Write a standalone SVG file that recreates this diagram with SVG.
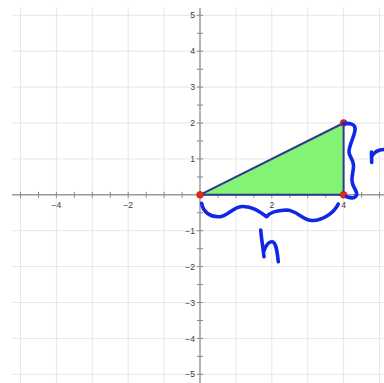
<svg xmlns="http://www.w3.org/2000/svg" width="384" height="383" viewBox="0 0 384 383">
<style>
.grid line{stroke:#e6e6e6;stroke-width:1}
.axis{stroke:#9a9a9a;stroke-width:1.5;fill:none}
.tick{stroke:#8a8a8a;stroke-width:1}
.lbl{font-family:"Liberation Sans",Arial,sans-serif;font-size:8.5px;fill:#3a3a3a}
.ink{fill:none;stroke:#1028e6;stroke-width:3.6;stroke-linecap:round;stroke-linejoin:round}
.pt{fill:#e52a1a;stroke:#b01a10;stroke-width:0.6}
</style>
<rect width="384" height="383" fill="#ffffff"/>
<g class="grid">
<line x1="20.5" y1="7" x2="20.5" y2="383"/>
<line x1="56.4" y1="7" x2="56.4" y2="383"/>
<line x1="92.3" y1="7" x2="92.3" y2="383"/>
<line x1="128.2" y1="7" x2="128.2" y2="383"/>
<line x1="164.1" y1="7" x2="164.1" y2="383"/>
<line x1="235.9" y1="7" x2="235.9" y2="383"/>
<line x1="271.8" y1="7" x2="271.8" y2="383"/>
<line x1="307.7" y1="7" x2="307.7" y2="383"/>
<line x1="343.6" y1="7" x2="343.6" y2="383"/>
<line x1="379.5" y1="7" x2="379.5" y2="383"/>
<line x1="12" y1="15.3" x2="384" y2="15.3"/>
<line x1="12" y1="51.2" x2="384" y2="51.2"/>
<line x1="12" y1="87.1" x2="384" y2="87.1"/>
<line x1="12" y1="123" x2="384" y2="123"/>
<line x1="12" y1="158.9" x2="384" y2="158.9"/>
<line x1="12" y1="230.7" x2="384" y2="230.7"/>
<line x1="12" y1="266.6" x2="384" y2="266.6"/>
<line x1="12" y1="302.5" x2="384" y2="302.5"/>
<line x1="12" y1="338.4" x2="384" y2="338.4"/>
<line x1="12" y1="374.3" x2="384" y2="374.3"/>
</g>
<g id="axes">
<line class="axis" x1="12" y1="194.8" x2="384" y2="194.8"/>
<line class="axis" x1="200" y1="8" x2="200" y2="383"/>
<path class="tick" d="M20.5 191.8v6M38.5 191.8v6M56.4 191.8v6M74.4 191.8v6M92.3 191.8v6M110.3 191.8v6M128.2 191.8v6M146.2 191.8v6M164.1 191.8v6M182.1 191.8v6M218 191.8v6M235.9 191.8v6M253.9 191.8v6M271.8 191.8v6M289.8 191.8v6M307.7 191.8v6M325.7 191.8v6M343.6 191.8v6M361.6 191.8v6M379.5 191.8v6"/>
<path class="tick" d="M197 15.3h6M197 33.3h6M197 51.2h6M197 69.2h6M197 87.1h6M197 105.1h6M197 123h6M197 141h6M197 158.9h6M197 176.9h6M197 212.8h6M197 230.7h6M197 248.7h6M197 266.6h6M197 284.6h6M197 302.5h6M197 320.5h6M197 338.4h6M197 356.4h6M197 374.3h6"/>
</g>
<g id="labels" class="lbl">
<text x="56.4" y="208" text-anchor="middle">−4</text>
<text x="128.2" y="208" text-anchor="middle">−2</text>
<text x="271.8" y="208" text-anchor="middle">2</text>
<text x="343.6" y="208" text-anchor="middle">4</text>
<text x="195" y="18" text-anchor="end">5</text>
<text x="195" y="54" text-anchor="end">4</text>
<text x="195" y="90" text-anchor="end">3</text>
<text x="195" y="126" text-anchor="end">2</text>
<text x="195" y="162" text-anchor="end">1</text>
<text x="195" y="233.5" text-anchor="end">−1</text>
<text x="195" y="269.5" text-anchor="end">−2</text>
<text x="195" y="305.5" text-anchor="end">−3</text>
<text x="195" y="341.5" text-anchor="end">−4</text>
<text x="195" y="377" text-anchor="end">−5</text>
</g>
<g id="triangle">
<polygon points="200,194.8 343.6,194.8 343.6,123" fill="#84f274" stroke="#2b3a8c" stroke-width="2" stroke-linejoin="round"/>
<circle class="pt" cx="200" cy="194.8" r="3.4"/>
<circle class="pt" cx="343.6" cy="194.8" r="3.4"/>
<circle class="pt" cx="343.6" cy="123" r="3.4"/>
</g>
<g id="annotations">
<path class="ink" d="M201.7 203.3C203 212 210 217.5 220 216.7C228 216 233 207 242 206.5C252 206 259 211 266.7 216.7C270 212 276 210.5 286 210C297 210 302 220 312 220.5C322 221 334 213 338.3 204"/>
<path class="ink" d="M343.3 123.5C349 123 356 123.5 355 130C354 138 349 145 349 152C349 156 353 159 353.5 165C354 172 350 178 353 185C355 190 359 194 355 197C352 199 349 197.5 346.7 196.7"/>
<path class="ink" d="M260.7 230C261.5 239 263 248 264 256.7M264 251C266 245 269 241.5 272 241.7C276 242 277 250 278.3 261.7"/>
<path class="ink" d="M371.5 152C371.5 155.5 371.7 159 371.7 162.5M371.5 157C374 152 378 149.5 384 149.5"/>
</g>
</svg>
